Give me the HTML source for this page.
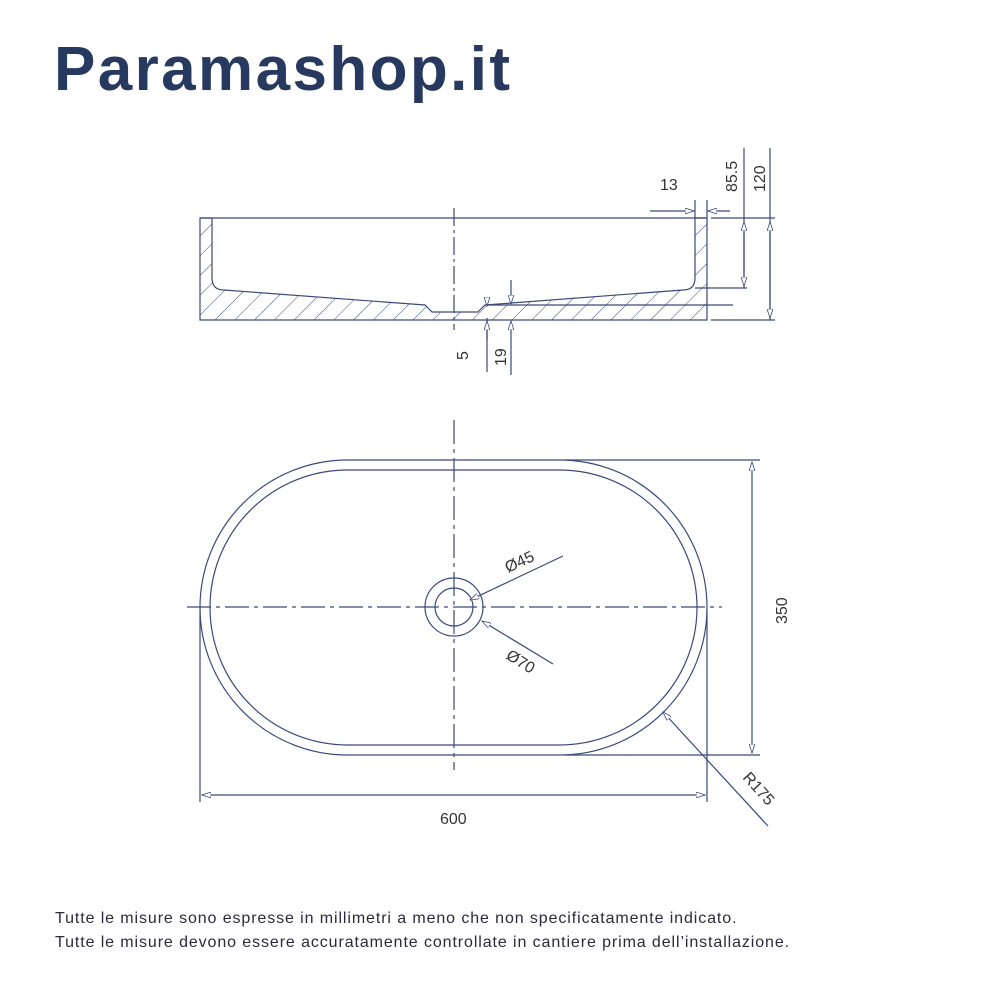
<!DOCTYPE html>
<html><head><meta charset="utf-8"><style>
body{margin:0;background:#fff;width:1000px;height:1000px;overflow:hidden;position:relative;font-family:"Liberation Sans",sans-serif}
.t{position:absolute;left:54px;top:34px;font-size:62px;font-weight:bold;color:#27395f;letter-spacing:2.4px}
.f{position:absolute;left:55px;font-size:16px;color:#2a2a3a;letter-spacing:0.9px}
</style></head><body>
<div class="t">Paramashop.it</div>
<svg width="1000" height="1000" style="position:absolute;left:0;top:0" font-family="Liberation Sans, sans-serif" fill="none" stroke="#3a4a7a" stroke-width="1.2">
<defs>
<pattern id="h" width="14" height="14" patternUnits="userSpaceOnUse" patternTransform="rotate(45)"><line x1="0" y1="0" x2="0" y2="14" stroke="#3a4a7a" stroke-width="1"/></pattern>
<marker id="a" markerWidth="10" markerHeight="6" refX="9" refY="3" orient="auto-start-reverse" markerUnits="userSpaceOnUse"><path d="M0,0 L9,3 L0,6 Z" fill="#fff" stroke="#3a4a7a" stroke-width="0.8"/></marker>
</defs>
<!-- section view -->
<path d="M200,218 H212 V278 Q212,290 224,290 L425,305 L432,312 H478 L485,305 L683,290 Q695,290 695,278 V218 H707 V320 H200 Z" fill="url(#h)"/>
<line x1="200" y1="218" x2="707" y2="218"/>
<line x1="454" y1="208" x2="454" y2="330" stroke-dasharray="18,4,3,4"/>
<line x1="485" y1="305" x2="733" y2="305"/>
<line x1="695" y1="288" x2="747" y2="288"/>
<line x1="711" y1="218" x2="775" y2="218"/><line x1="711" y1="320" x2="775" y2="320"/>
<line x1="744" y1="148" x2="744" y2="288" /><line x1="744" y1="222" x2="744" y2="286" marker-start="url(#a)" marker-end="url(#a)"/>
<line x1="770" y1="148" x2="770" y2="320"/><line x1="770" y1="222" x2="770" y2="318" marker-start="url(#a)" marker-end="url(#a)"/>
<line x1="695" y1="200" x2="695" y2="218"/><line x1="707" y1="200" x2="707" y2="218"/>
<line x1="650" y1="211" x2="694" y2="211" marker-end="url(#a)"/><line x1="730" y1="211" x2="708" y2="211" marker-end="url(#a)"/>
<line x1="487" y1="318" x2="487" y2="372"/><line x1="487" y1="302" x2="487" y2="306" marker-end="url(#a)"/>
<line x1="487" y1="340" x2="487" y2="321" marker-end="url(#a)"/>
<line x1="511" y1="280" x2="511" y2="304" marker-end="url(#a)"/><line x1="511" y1="375" x2="511" y2="321" marker-end="url(#a)"/>
<g fill="#333" stroke="none" font-size="16">
<text x="660" y="190">13</text>
<text transform="translate(737,192) rotate(-90)">85.5</text>
<text transform="translate(765,192) rotate(-90)">120</text>
<text transform="translate(468,360) rotate(-90)">5</text>
<text transform="translate(506,366) rotate(-90)">19</text>
</g>
<!-- plan view -->
<rect x="200" y="460" width="507" height="295" rx="147.5"/>
<rect x="210" y="470" width="487" height="275" rx="137.5"/>
<circle cx="454" cy="607" r="29"/><circle cx="454" cy="607" r="19"/>
<line x1="187" y1="607" x2="722" y2="607" stroke-dasharray="24,5,4,5"/>
<line x1="454" y1="420" x2="454" y2="770" stroke-dasharray="24,5,4,5"/>
<line x1="565" y1="460" x2="760" y2="460"/><line x1="565" y1="755" x2="760" y2="755"/>
<line x1="752" y1="462" x2="752" y2="753" marker-start="url(#a)" marker-end="url(#a)"/>
<line x1="200" y1="610" x2="200" y2="802"/><line x1="707" y1="610" x2="707" y2="802"/>
<line x1="202" y1="795" x2="705" y2="795" marker-start="url(#a)" marker-end="url(#a)"/>
<line x1="563" y1="556" x2="470" y2="600" marker-end="url(#a)"/>
<line x1="553" y1="664" x2="482" y2="621" marker-end="url(#a)"/>
<line x1="768" y1="826" x2="663" y2="712" marker-end="url(#a)"/>
<g fill="#333" stroke="none" font-size="16">
<text transform="translate(787,624) rotate(-90)">350</text>
<text x="440" y="824">600</text>
<text transform="translate(508,573) rotate(-25)">Ø45</text>
<text transform="translate(505,658) rotate(32)">Ø70</text>
<text transform="translate(742,778) rotate(48)">R175</text>
</g>
</svg>
<div class="f" style="top:910px">Tutte le misure sono espresse in millimetri a meno che non specificatamente indicato.</div>
<div class="f" style="top:934px">Tutte le misure devono essere accuratamente controllate in cantiere prima dell’installazione.</div>
</body></html>
